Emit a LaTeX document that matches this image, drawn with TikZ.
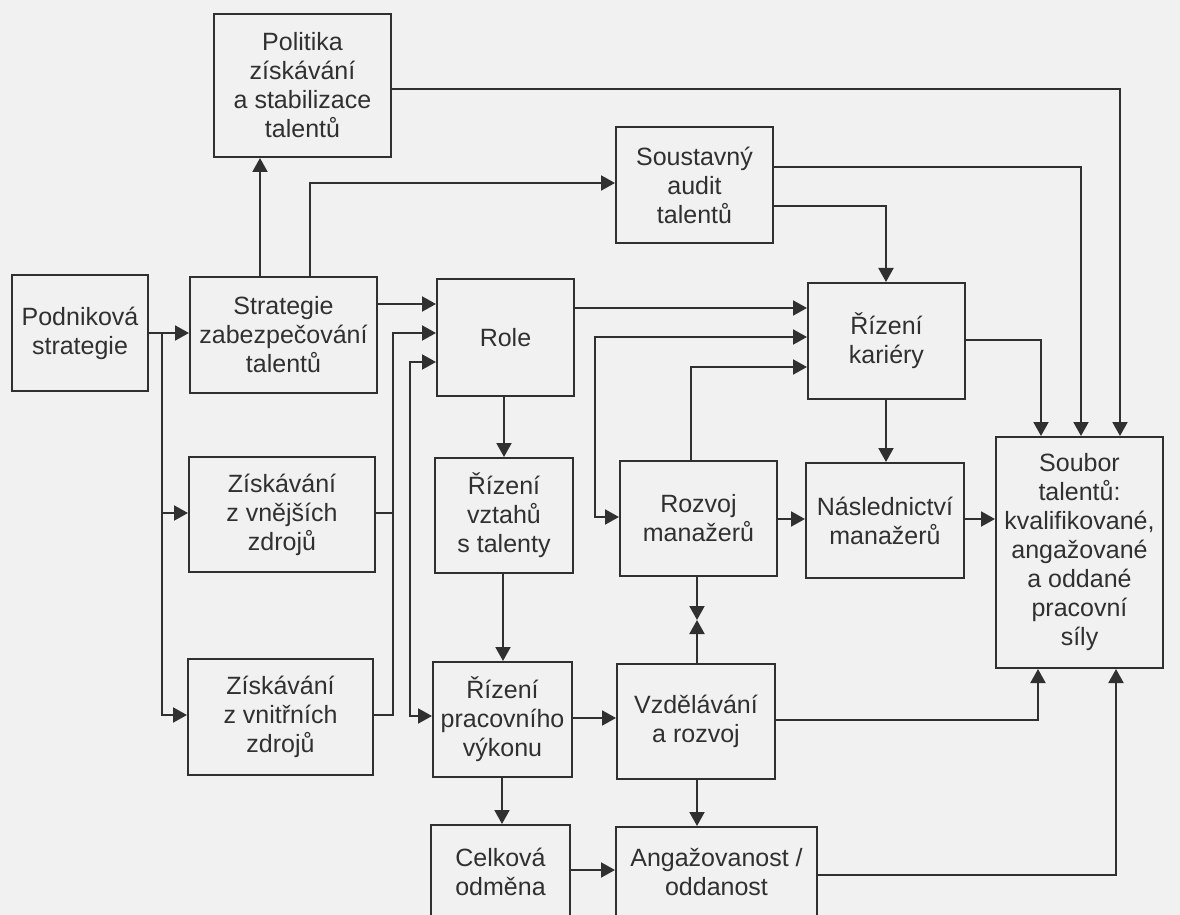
\documentclass[tikz,border=0pt]{standalone}
\usepackage{fontspec}
\setmainfont{Liberation Sans}
\usetikzlibrary{arrows.meta}
\definecolor{ink}{HTML}{303030}
\definecolor{paper}{HTML}{F1F1F1}
\newcommand\mybox[6]{%
  \pgfmathsetmacro\bxcx{(#2+#4)/2}%
  \pgfmathsetmacro\bxcy{(#3+#5)/2}%
  \pgfmathsetmacro\bxw{(#4-#2)*0.5}%
  \pgfmathsetmacro\bxh{(#5-#3)*0.5}%
  \node[box, minimum width=\bxw pt, minimum height=\bxh pt] (#1) at (\bxcx,\bxcy) {#6};}
\begin{document}
\begin{tikzpicture}[x=0.5pt,y=-0.5pt,
  box/.style={draw=ink, line width=1pt, inner sep=0pt, align=center, text=ink,
    font=\fontsize{12.5pt}{14.5pt}\selectfont},
  arr/.style={draw=ink, line width=1pt, -{Triangle[length=7pt,width=7.5pt]}},
  dbl/.style={draw=ink, line width=1pt, {Triangle[length=7pt,width=7.5pt]}-{Triangle[length=7pt,width=7.5pt]}},
  ln/.style={draw=ink, line width=1pt}]
\fill[paper] (0,0) rectangle (1180,915);
\useasboundingbox (0,0) rectangle (1180,915);

% boxes
\mybox{pol}{214}{14}{391}{157}{Politika\\získávání\\a stabilizace\\talentů}
\mybox{pod}{12}{275}{148}{391}{Podniková\\strategie}
\mybox{str}{190}{277}{377}{393}{Strategie\\zabezpečování\\talentů}
\mybox{role}{437}{279}{574}{396}{Role}
\mybox{aud}{616}{127}{773}{243}{Soustavný\\audit\\talentů}
\mybox{kar}{808}{283}{965}{399}{Řízení\\kariéry}
\mybox{vne}{189}{457}{375}{572}{Získávání\\z vnějších\\zdrojů}
\mybox{vzt}{435}{458}{573}{573}{Řízení\\vztahů\\s talenty}
\mybox{roz}{620}{461}{777}{576}{Rozvoj\\manažerů}
\mybox{nas}{806}{463}{964}{578}{Následnictví\\manažerů}
\mybox{sou}{996}{437}{1163}{668}{Soubor\\talentů:\\kvalifikované,\\angažované\\a oddané\\pracovní\\síly}
\mybox{vni}{188}{659}{373}{775}{Získávání\\z vnitřních\\zdrojů}
\mybox{vyk}{433}{662}{572}{777}{Řízení\\pracovního\\výkonu}
\mybox{vzd}{617}{664}{775}{779}{Vzdělávání\\a rozvoj}
\mybox{cel}{431}{825}{570}{918}{Celková\\odměna}
\mybox{ang}{616}{827}{817}{918}{Angažovanost /\\oddanost}

% junctions
\coordinate (jP) at (162,333);
\coordinate (jA) at (393,333);
\coordinate (jB) at (410,362);
\coordinate (jR) at (595,337);
\coordinate (jM) at (697,620);

% connectors
\draw[arr] (pod.east |- jP) -- (str.west |- jP);
\draw[arr] (jP) |- (vne.west |- 0,513);
\draw[arr] (jP) |- (vni.west |- 0,715);
\draw[arr] (str.north -| 260,0) -- (pol.south -| 260,0);
\draw[arr] (str.north -| 310,0) |- (aud.west |- 0,183);
\draw[arr] (str.east |- 0,304) -- (role.west |- 0,304);
\draw[arr] (vne.east |- 0,513) -| (jA) -- (role.west |- jA);
\draw[ln] (vni.east |- 0,715) -| (393,513);
\draw[dbl] (role.west |- jB) -- (jB) -- (410,716) -- (vyk.west |- 0,716);
\draw[arr] (role.south -| 504,0) -- (vzt.north -| 504,0);
\draw[arr] (vzt.south -| 503,0) -- (vyk.north -| 503,0);
\draw[arr] (vyk.south -| 502,0) -- (cel.north -| 502,0);
\draw[arr] (vyk.east |- 0,718) -- (vzd.west |- 0,718);
\draw[arr] (cel.east |- 0,870) -- (ang.west |- 0,870);
\draw[arr] (vzd.south -| 697,0) -- (ang.north -| 697,0);
\draw[arr] (role.east |- 0,308) -- (kar.west |- 0,308);
\draw[dbl] (kar.west |- jR) -- (jR) -- (595,517) -- (roz.west |- 0,517);
\draw[arr] (roz.north -| 691,0) |- (kar.west |- 0,367);
\draw[arr] (aud.east |- 0,206) -| (kar.north -| 886,0);
\draw[arr] (aud.east |- 0,167) -| (sou.north -| 1081,0);
\draw[arr] (pol.east |- 0,89) -| (sou.north -| 1120,0);
\draw[arr] (kar.east |- 0,340) -| (sou.north -| 1041,0);
\draw[arr] (kar.south -| 886,0) -- (nas.north -| 886,0);
\draw[arr] (roz.east |- 0,519) -- (nas.west |- 0,519);
\draw[arr] (nas.east |- 0,519) -- (sou.west |- 0,519);
\draw[arr] (roz.south -| jM) -- (jM);
\draw[arr] (vzd.north -| jM) -- (jM);
\draw[arr] (vzd.east |- 0,720) -| (sou.south -| 1038,0);
\draw[arr] (ang.east |- 0,875) -| (sou.south -| 1116,0);
\end{tikzpicture}
\end{document}
